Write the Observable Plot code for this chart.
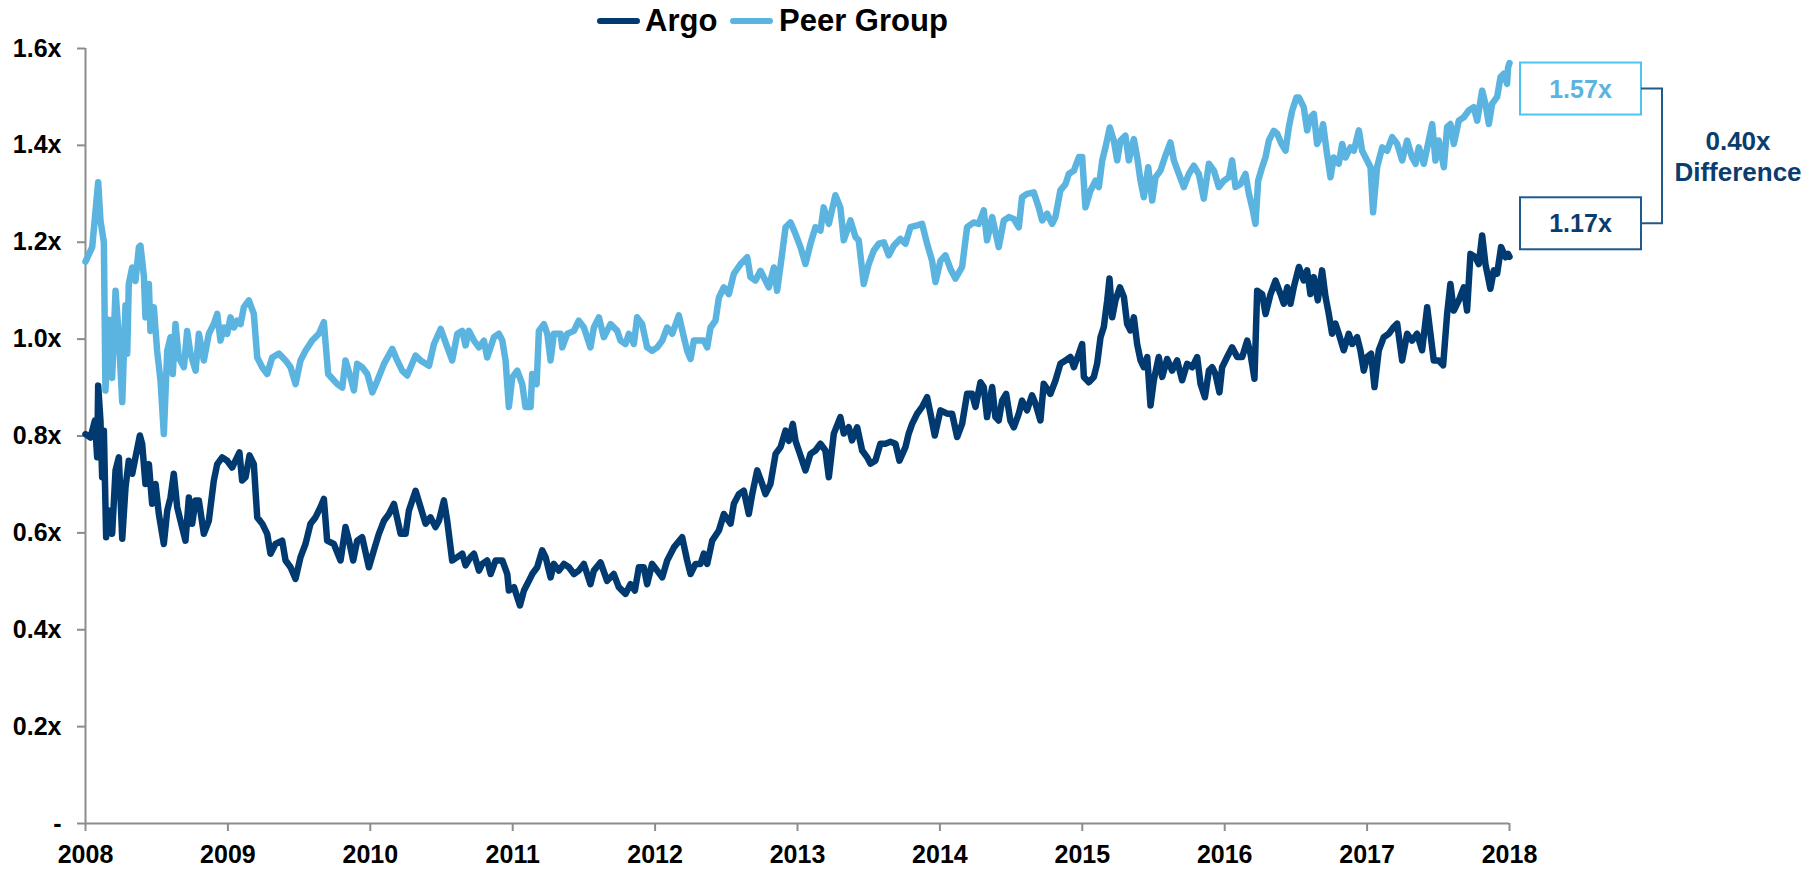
<!DOCTYPE html>
<html><head><meta charset="utf-8">
<script src="https://cdn.jsdelivr.net/npm/d3@7"></script>
<script src="https://cdn.jsdelivr.net/npm/@observablehq/plot@0.6"></script>
<style>
body{margin:0;background:#fff;font-family:"Liberation Sans",Arial,sans-serif;}
#wrap{position:relative;width:1818px;height:869px;overflow:hidden;}
#legend{position:relative;height:30px;width:1818px;}
.sw{position:absolute;height:6px;border-radius:3px;}
.lt{position:absolute;font-size:31px;font-weight:bold;line-height:31px;color:#000;white-space:nowrap;}
svg{overflow:visible;}
</style></head><body>
<div id="wrap"><div id="legend"></div><div id="chart"></div></div>
<script>
const seriesNames = ["Argo", "Peer Group"];
const seriesColors = ["#003A70", "#5BB4E0"];
const xTicks = [2008, 2009, 2010, 2011, 2012, 2013, 2014, 2015, 2016, 2017, 2018];
const yTicks = [0, 0.2, 0.4, 0.6, 0.8, 1.0, 1.2, 1.4, 1.6];
const endLabels = [1.17, 1.57];

const argo = [
[2008.000,0.804],[2008.035,0.797],[2008.066,0.832],[2008.082,0.756],[2008.089,0.904],[2008.105,0.832],[2008.117,0.715],[2008.129,0.811],[2008.145,0.591],[2008.164,0.646],[2008.187,0.598],[2008.211,0.729],[2008.234,0.756],[2008.258,0.588],[2008.281,0.694],[2008.304,0.749],[2008.328,0.722],[2008.351,0.756],[2008.382,0.801],[2008.398,0.784],[2008.421,0.701],[2008.445,0.742],[2008.468,0.66],[2008.492,0.701],[2008.515,0.639],[2008.550,0.577],[2008.574,0.646],[2008.597,0.673],[2008.620,0.722],[2008.644,0.653],[2008.667,0.625],[2008.702,0.584],[2008.726,0.673],[2008.749,0.619],[2008.773,0.667],[2008.796,0.667],[2008.831,0.598],[2008.866,0.625],[2008.901,0.708],[2008.925,0.742],[2008.960,0.756],[2008.995,0.749],[2009.030,0.735],[2009.053,0.749],[2009.081,0.766],[2009.100,0.708],[2009.124,0.715],[2009.152,0.76],[2009.182,0.742],[2009.206,0.632],[2009.241,0.619],[2009.276,0.598],[2009.299,0.557],[2009.334,0.577],[2009.381,0.584],[2009.405,0.543],[2009.440,0.529],[2009.475,0.505],[2009.510,0.55],[2009.545,0.577],[2009.580,0.619],[2009.615,0.632],[2009.650,0.653],[2009.674,0.67],[2009.697,0.584],
[2009.744,0.577],[2009.791,0.543],[2009.826,0.612],[2009.850,0.584],[2009.880,0.543],[2009.908,0.584],[2009.943,0.591],[2009.990,0.529],[2010.025,0.564],[2010.060,0.598],[2010.096,0.625],[2010.131,0.639],[2010.166,0.66],[2010.213,0.598],[2010.248,0.598],[2010.271,0.646],[2010.318,0.687],[2010.353,0.653],[2010.388,0.619],[2010.423,0.632],[2010.458,0.612],[2010.482,0.625],[2010.517,0.667],[2010.540,0.625],[2010.575,0.543],[2010.611,0.55],[2010.646,0.557],[2010.669,0.533],[2010.704,0.55],[2010.728,0.557],[2010.763,0.522],[2010.786,0.536],[2010.821,0.543],[2010.845,0.515],[2010.880,0.543],[2010.927,0.543],[2010.962,0.515],[2010.973,0.481],[2011.009,0.488],[2011.051,0.45],[2011.079,0.481],[2011.114,0.501],[2011.137,0.515],[2011.172,0.529],[2011.207,0.564],[2011.231,0.55],[2011.266,0.508],[2011.289,0.536],[2011.324,0.522],[2011.360,0.536],[2011.395,0.529],[2011.430,0.515],
[2011.464,0.522],[2011.500,0.536],[2011.546,0.494],[2011.570,0.522],[2011.617,0.539],[2011.663,0.501],[2011.710,0.515],[2011.745,0.488],[2011.792,0.474],[2011.827,0.494],[2011.858,0.481],[2011.886,0.529],[2011.921,0.529],[2011.944,0.494],[2011.979,0.536],[2012.015,0.522],[2012.050,0.508],[2012.085,0.543],[2012.132,0.570],[2012.190,0.591],[2012.225,0.543],[2012.249,0.515],[2012.284,0.536],[2012.319,0.536],[2012.342,0.557],[2012.366,0.536],[2012.401,0.584],[2012.448,0.605],[2012.483,0.639],[2012.530,0.619],[2012.553,0.66],[2012.588,0.68],[2012.623,0.687],[2012.658,0.639],[2012.682,0.68],[2012.717,0.729],[2012.752,0.701],[2012.775,0.68],[2012.810,0.701],[2012.846,0.763],[2012.881,0.777],[2012.916,0.811],[2012.939,0.79],[2012.967,0.825],[2012.986,0.79],[2013.009,0.77],[2013.056,0.729],[2013.091,0.763],[2013.126,0.77],
[2013.161,0.784],[2013.196,0.77],[2013.220,0.715],[2013.255,0.805],[2013.301,0.839],[2013.325,0.805],[2013.360,0.818],[2013.383,0.791],[2013.419,0.818],[2013.454,0.77],[2013.489,0.756],[2013.512,0.743],[2013.547,0.749],[2013.582,0.784],[2013.617,0.784],[2013.653,0.788],[2013.688,0.784],[2013.716,0.749],[2013.758,0.777],[2013.781,0.805],[2013.805,0.825],[2013.840,0.846],[2013.875,0.86],[2013.910,0.88],[2013.934,0.846],[2013.964,0.801],[2014.004,0.853],[2014.051,0.846],[2014.086,0.846],[2014.121,0.798],[2014.156,0.825],[2014.191,0.887],[2014.226,0.887],[2014.250,0.86],[2014.285,0.911],[2014.308,0.901],[2014.331,0.839],[2014.367,0.901],[2014.390,0.839],[2014.413,0.832],[2014.437,0.873],[2014.465,0.887],[2014.495,0.832],[2014.519,0.818],[2014.554,0.846],[2014.577,0.873],[2014.612,0.853],[2014.647,0.884],[2014.671,0.867],[2014.706,0.832],[2014.729,0.908],[2014.776,0.887],[2014.811,0.914],[2014.846,0.949],
[2014.882,0.956],[2014.917,0.963],[2014.941,0.942],[2014.976,0.97],[2014.999,0.99],[2015.011,0.922],[2015.046,0.911],[2015.081,0.922],[2015.104,0.949],[2015.128,1.004],[2015.151,1.025],[2015.175,1.08],[2015.191,1.125],[2015.210,1.045],[2015.233,1.08],[2015.264,1.107],[2015.292,1.087],[2015.315,1.031],[2015.338,1.018],[2015.362,1.045],[2015.385,0.99],[2015.409,0.956],[2015.432,0.942],[2015.456,0.963],[2015.479,0.863],[2015.502,0.915],[2015.537,0.963],[2015.561,0.922],[2015.596,0.959],[2015.631,0.935],[2015.666,0.956],[2015.701,0.915],[2015.736,0.949],[2015.772,0.942],[2015.807,0.963],[2015.830,0.908],[2015.861,0.88],[2015.889,0.935],[2015.912,0.942],[2015.935,0.928],[2015.963,0.89],[2015.982,0.942],[2016.017,0.963],[2016.052,0.983],[2016.088,0.963],[2016.123,0.963],[2016.158,0.997],[2016.181,0.97],[2016.209,0.918],[2016.228,1.10],[2016.263,1.093],[2016.287,1.052],[2016.322,1.093],[2016.357,1.121],[2016.392,1.093],[2016.415,1.073],[2016.439,1.107],[2016.462,1.073],[2016.485,1.107],[2016.521,1.149],
[2016.555,1.121],[2016.579,1.142],[2016.602,1.093],[2016.626,1.128],[2016.654,1.08],[2016.684,1.142],[2016.708,1.087],[2016.731,1.052],[2016.754,1.011],[2016.778,1.032],[2016.801,1.011],[2016.836,0.977],[2016.871,1.011],[2016.895,0.99],[2016.930,1.004],[2016.953,0.977],[2016.977,0.935],[2017.000,0.963],[2017.028,0.97],[2017.052,0.901],[2017.082,0.977],[2017.117,1.004],[2017.152,1.011],[2017.187,1.025],[2017.211,1.032],[2017.246,0.956],[2017.281,1.011],[2017.316,0.997],[2017.351,1.011],[2017.386,0.977],[2017.422,1.066],[2017.445,1.011],[2017.468,0.956],[2017.503,0.956],[2017.534,0.946],[2017.562,1.052],[2017.585,1.114],[2017.609,1.059],[2017.644,1.08],[2017.679,1.107],[2017.702,1.059],[2017.726,1.176],[2017.761,1.169],[2017.784,1.155],[2017.808,1.214],[2017.831,1.155],[2017.866,1.104],[2017.890,1.142],[2017.913,1.135],[2017.941,1.19],[2017.972,1.169],[2017.990,1.176],[2018.000,1.17]
];

const peer = [
[2008.000,1.16],[2008.047,1.19],[2008.089,1.324],[2008.105,1.245],[2008.129,1.20],[2008.140,0.894],[2008.164,1.04],[2008.187,0.92],[2008.211,1.10],[2008.234,1.004],[2008.258,0.87],[2008.281,1.07],[2008.293,0.97],[2008.304,1.114],[2008.328,1.148],[2008.351,1.12],[2008.375,1.19],[2008.386,1.193],[2008.410,1.13],[2008.421,1.045],[2008.445,1.114],[2008.456,1.017],[2008.480,1.066],[2008.503,0.976],[2008.527,0.914],[2008.550,0.804],[2008.574,0.976],[2008.597,1.004],[2008.613,0.928],[2008.632,1.031],[2008.655,0.962],[2008.691,0.942],[2008.714,1.017],[2008.737,0.97],[2008.773,0.935],[2008.796,1.011],[2008.831,0.956],[2008.866,1.011],[2008.901,1.031],[2008.925,1.052],[2008.948,0.997],[2008.971,1.024],[2008.995,1.011],[2009.018,1.045],[2009.042,1.024],[2009.065,1.038],[2009.089,1.031],[2009.112,1.066],[2009.147,1.08],[2009.182,1.052],[2009.206,0.962],[2009.241,0.942],[2009.276,0.928],[2009.311,0.962],[2009.358,0.97],[2009.405,0.956],[2009.440,0.942],[2009.475,0.907],[2009.510,0.956],[2009.545,0.976],[2009.592,0.997],[2009.639,1.011],[2009.674,1.035],[2009.704,0.928],
[2009.768,0.907],[2009.803,0.90],[2009.826,0.956],[2009.861,0.921],[2009.885,0.894],[2009.908,0.949],[2009.943,0.942],[2009.979,0.928],[2010.014,0.89],[2010.049,0.914],[2010.096,0.949],[2010.154,0.98],[2010.189,0.956],[2010.224,0.935],[2010.259,0.925],[2010.318,0.966],[2010.353,0.956],[2010.412,0.945],[2010.447,0.99],[2010.494,1.021],[2010.529,0.993],[2010.575,0.956],[2010.611,1.011],[2010.646,1.017],[2010.669,0.987],[2010.692,1.017],[2010.728,0.997],[2010.763,0.983],[2010.798,0.997],[2010.821,0.962],[2010.868,1.004],[2010.903,1.011],[2010.927,0.997],[2010.950,0.956],[2010.973,0.86],[2010.997,0.921],[2011.032,0.935],[2011.067,0.907],[2011.090,0.86],[2011.126,0.86],[2011.137,0.928],[2011.168,0.907],[2011.184,1.017],[2011.219,1.031],[2011.243,1.011],[2011.266,0.956],[2011.289,1.011],[2011.336,1.011],[2011.348,0.983],[2011.383,1.011],[2011.430,1.017],
[2011.464,1.038],[2011.500,1.024],[2011.546,0.983],[2011.570,1.024],[2011.605,1.045],[2011.640,1.004],[2011.687,1.031],[2011.734,1.017],[2011.757,0.997],[2011.792,0.99],[2011.816,1.011],[2011.851,0.99],[2011.874,1.045],[2011.909,1.031],[2011.944,0.983],[2011.979,0.976],[2012.015,0.983],[2012.050,0.997],[2012.085,1.024],[2012.120,1.011],[2012.167,1.049],[2012.202,1.004],[2012.225,0.976],[2012.249,0.959],[2012.272,0.997],[2012.307,0.997],[2012.342,0.997],[2012.366,0.983],[2012.389,1.024],[2012.424,1.038],[2012.448,1.086],[2012.483,1.107],[2012.518,1.093],[2012.553,1.135],[2012.600,1.155],[2012.647,1.169],[2012.670,1.128],[2012.705,1.121],[2012.740,1.141],[2012.775,1.121],[2012.799,1.107],[2012.834,1.148],[2012.857,1.10],[2012.892,1.176],[2012.916,1.231],[2012.951,1.241],[2012.986,1.217],[2013.021,1.19],[2013.056,1.155],[2013.091,1.197],[2013.126,1.231],
[2013.161,1.224],[2013.184,1.272],[2013.220,1.238],[2013.266,1.297],[2013.301,1.272],[2013.325,1.204],[2013.372,1.245],[2013.407,1.211],[2013.430,1.204],[2013.465,1.114],[2013.500,1.155],[2013.536,1.183],[2013.571,1.197],[2013.606,1.20],[2013.641,1.173],[2013.676,1.193],[2013.723,1.207],[2013.758,1.197],[2013.793,1.231],[2013.840,1.235],[2013.875,1.238],[2013.910,1.197],[2013.945,1.162],[2013.969,1.118],[2014.004,1.162],[2014.039,1.173],[2014.074,1.145],[2014.109,1.125],[2014.156,1.149],[2014.191,1.231],[2014.238,1.241],[2014.273,1.238],[2014.308,1.266],[2014.331,1.204],[2014.367,1.252],[2014.413,1.19],[2014.449,1.245],[2014.484,1.252],[2014.519,1.248],[2014.554,1.231],[2014.577,1.293],[2014.612,1.30],[2014.659,1.303],[2014.694,1.272],[2014.718,1.245],[2014.753,1.259],[2014.788,1.238],[2014.811,1.252],[2014.846,1.307],
[2014.882,1.32],[2014.905,1.341],[2014.941,1.348],[2014.976,1.376],[2014.999,1.376],[2015.022,1.272],[2015.058,1.307],[2015.093,1.327],[2015.116,1.314],[2015.140,1.369],[2015.163,1.396],[2015.193,1.437],[2015.221,1.41],[2015.245,1.369],[2015.268,1.41],[2015.303,1.42],[2015.327,1.369],[2015.362,1.413],[2015.385,1.376],[2015.409,1.327],[2015.432,1.293],[2015.463,1.355],[2015.491,1.286],[2015.514,1.334],[2015.549,1.348],[2015.584,1.379],[2015.619,1.406],[2015.643,1.369],[2015.678,1.341],[2015.713,1.314],[2015.748,1.341],[2015.783,1.358],[2015.818,1.341],[2015.853,1.29],[2015.889,1.362],[2015.924,1.348],[2015.959,1.314],[2015.994,1.327],[2016.029,1.334],[2016.052,1.369],[2016.076,1.314],[2016.111,1.32],[2016.146,1.341],[2016.170,1.30],[2016.193,1.272],[2016.216,1.238],[2016.235,1.327],[2016.263,1.355],[2016.287,1.376],[2016.310,1.41],[2016.345,1.43],[2016.369,1.424],[2016.399,1.403],[2016.427,1.389],[2016.450,1.437],[2016.474,1.472],[2016.504,1.499],[2016.521,1.499],
[2016.555,1.479],[2016.579,1.431],[2016.602,1.458],[2016.626,1.465],[2016.649,1.403],[2016.672,1.417],[2016.691,1.444],[2016.715,1.39],[2016.743,1.334],[2016.766,1.375],[2016.801,1.362],[2016.825,1.403],[2016.848,1.375],[2016.883,1.396],[2016.907,1.389],[2016.942,1.431],[2016.965,1.389],[2017.000,1.369],[2017.024,1.355],[2017.042,1.262],[2017.070,1.355],[2017.106,1.396],[2017.141,1.389],[2017.176,1.417],[2017.211,1.403],[2017.246,1.369],[2017.281,1.41],[2017.316,1.375],[2017.340,1.362],[2017.363,1.396],[2017.398,1.362],[2017.433,1.41],[2017.457,1.444],[2017.480,1.369],[2017.503,1.41],[2017.539,1.355],[2017.562,1.438],[2017.585,1.444],[2017.609,1.403],[2017.644,1.451],[2017.679,1.458],[2017.714,1.472],[2017.749,1.479],[2017.773,1.451],[2017.808,1.513],[2017.831,1.486],[2017.855,1.444],[2017.878,1.486],[2017.913,1.50],[2017.937,1.541],[2017.960,1.548],[2017.983,1.527],[2017.990,1.561],[2018.000,1.57]
];

const FONT = "'Liberation Sans', Arial, sans-serif";

// Legend (HTML, above the SVG)
const legend = document.getElementById("legend");
const legendPos = [{sw: 597, tx: 645}, {sw: 730, tx: 779}];
seriesNames.forEach((name, i) => {
  const s = document.createElement("div");
  s.className = "sw";
  s.style.left = legendPos[i].sw + "px";
  s.style.top = "18px";
  s.style.width = "43px";
  s.style.background = seriesColors[i];
  legend.appendChild(s);
  const t = document.createElement("div");
  t.className = "lt";
  t.style.left = legendPos[i].tx + "px";
  t.style.top = "5px";
  t.textContent = name;
  legend.appendChild(t);
});

const rows = [
  ...argo.map(([t, v]) => ({series: seriesNames[0], t, v})),
  ...peer.map(([t, v]) => ({series: seriesNames[1], t, v}))
];

const fmtY = d => d === 0 ? "-" : d.toFixed(1) + "x";

const plot = Plot.plot({
  width: 1818,
  height: 839,
  marginLeft: 85,
  marginRight: 309,
  marginTop: 18,
  marginBottom: 46,
  style: {fontFamily: FONT, fontSize: "25px", fontWeight: "bold", color: "#000", background: "#fff", overflow: "visible"},
  x: {domain: [2008, 2018], label: null},
  y: {domain: [0, 1.6], label: null},
  color: {domain: seriesNames, range: seriesColors},
  marks: [
    Plot.axisX({ticks: xTicks, tickFormat: d => String(d), tickSize: 8, tickPadding: 14, stroke: "#8c8c8c", strokeWidth: 2, fill: "#000", label: null}),
    Plot.axisY({ticks: yTicks, tickFormat: fmtY, tickSize: 8, tickPadding: 16, stroke: "#8c8c8c", strokeWidth: 2, fill: "#000", label: null}),
    Plot.ruleY([0], {stroke: "#8c8c8c", strokeWidth: 2}),
    Plot.ruleX([2008], {y1: 0, y2: 1.6, stroke: "#8c8c8c", strokeWidth: 2}),
    Plot.line(rows, {x: "t", y: "v", z: "series", stroke: "series", strokeWidth: 6.5, strokeLinejoin: "round", strokeLinecap: "round"})
  ]
});
document.getElementById("chart").appendChild(plot);

// Annotation boxes, positioned through the plot's scales
const xs = plot.scale("x"), ys = plot.scale("y");
const svg = d3.select(plot);
const xEnd = xs.apply(2018);
const boxW = 121, boxH = 52;
const peerTop = ys.apply(endLabels[1]);
const argoBottom = ys.apply(endLabels[0]) - 7;
const g = svg.append("g").attr("font-family", FONT).attr("font-weight", "bold").attr("font-size", 25);
const boxes = [
  {y: peerTop, label: endLabels[1], color: "#5BB4E0", border: "#4DC3F0"},
  {y: argoBottom - boxH, label: endLabels[0], color: "#0B3C6E", border: "#1F5A8C"}
];
boxes.forEach(b => {
  g.append("rect").attr("x", xEnd + 11).attr("y", b.y).attr("width", boxW).attr("height", boxH)
    .attr("fill", "#fff").attr("stroke", b.border).attr("stroke-width", 2);
  g.append("text").attr("x", xEnd + 11 + boxW / 2).attr("y", b.y + boxH / 2 + 9).attr("text-anchor", "middle")
    .attr("fill", b.color).text(b.label.toFixed(2) + "x");
});
const cy1 = boxes[0].y + boxH / 2, cy2 = boxes[1].y + boxH / 2;
const bx = xEnd + 11 + boxW;
g.append("path").attr("d", `M${bx},${cy1}H${bx + 21}V${cy2}H${bx}`)
  .attr("fill", "none").attr("stroke", "#1F5A8C").attr("stroke-width", 2);
const mid = (cy1 + cy2) / 2;
g.append("text").attr("x", xEnd + 229).attr("y", mid - 6).attr("text-anchor", "middle").attr("fill", "#0B3C6E")
  .attr("font-size", 26).text((endLabels[1] - endLabels[0]).toFixed(2) + "x");
g.append("text").attr("x", xEnd + 229).attr("y", mid + 25).attr("text-anchor", "middle").attr("fill", "#0B3C6E")
  .attr("font-size", 26).text("Difference");
</script>
</body></html>
